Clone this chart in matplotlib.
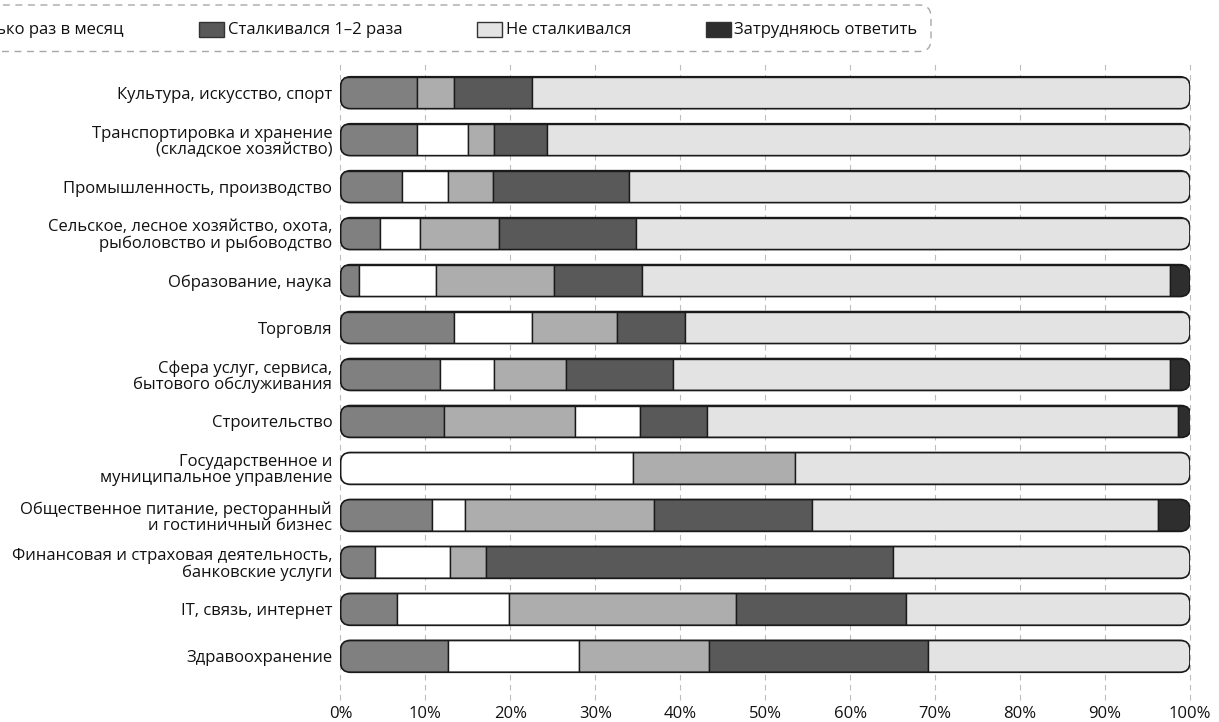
import matplotlib
matplotlib.use("Agg")
import matplotlib.pyplot as plt
from matplotlib.patches import FancyBboxPatch, Rectangle
from matplotlib.transforms import IdentityTransform

plt.rcParams['font.family'] = ['Open Sans', 'DejaVu Sans']

# rows, top to bottom
categories = [
    "Культура, искусство, спорт",
    "Транспортировка и хранение\n(складское хозяйство)",
    "Промышленность, производство",
    "Сельское, лесное хозяйство, охота,\nрыболовство и рыбоводство",
    "Образование, наука",
    "Торговля",
    "Сфера услуг, сервиса,\nбытового обслуживания",
    "Строительство",
    "Государственное и\nмуниципальное управление",
    "Общественное питание, ресторанный\nи гостиничный бизнес",
    "Финансовая и страховая деятельность,\nбанковские услуги",
    "IT, связь, интернет",
    "Здравоохранение",
]

daily = [9.0, 9.0, 7.2, 4.6, 2.15, 13.4, 11.7, 12.15, 0, 10.8, 4.1, 6.7, 12.7]
weekly = [0, 6.05, 5.5, 4.8, 9.15, 9.1, 6.4, 7.6, 34.45, 3.8, 8.8, 13.1, 15.4]
monthly = [4.4, 3.0, 5.2, 9.2, 13.8, 10.1, 8.4, 15.45, 19.05, 22.3, 4.2, 26.8, 15.3]
once_twice = [9.2, 6.2, 16.1, 16.2, 10.4, 8.0, 12.6, 7.9, 0, 18.6, 47.9, 20.0, 25.7]
never = [77.4, 75.8, 66.0, 65.2, 62.2, 59.4, 58.6, 55.5, 46.5, 40.7, 35.0, 33.4, 30.9]
unsure = [0, 0, 0, 0, 2.3, 0, 2.3, 1.5, 0, 3.8, 0, 0, 0]

series = [daily, weekly, monthly, once_twice, never, unsure]
legend_labels = [
    "Сталкивался ежедневно",
    "Сталкивался несколько раз в неделю",
    "Сталкивался несколько раз в месяц",
    "Сталкивался 1–2 раза",
    "Не сталкивался",
    "Затрудняюсь ответить",
]
colors = ["#808080", "#ffffff", "#adadad", "#595959", "#e3e3e3", "#2e2e2e"]

# one row is stacked in a different order in the original
order_override = {"Строительство": [0, 2, 1, 3, 4, 5]}

ticks = list(range(0, 101, 10))
tick_labels = [f"{t}%" for t in ticks]

W, H = 1219, 722
FS = 12
EDGE = "#1a1a1a"

fig = plt.figure(figsize=(W / 100, H / 100), dpi=100)

ax_left, ax_right, ax_top, ax_bottom = 340.5, 1190, 62, 700
ax = fig.add_axes([ax_left / W, 1 - ax_bottom / H,
                   (ax_right - ax_left) / W, (ax_bottom - ax_top) / H])

n = len(categories)
y_lo, y_hi = -0.654, n - 1 + 0.93
ax.set_xlim(0, 100)
ax.set_ylim(y_hi, y_lo)

# rounded bar ends: keep corners circular in pixels despite unequal x/y units
px_x = (ax_right - ax_left) / 100
px_y = (ax_bottom - ax_top) / (y_hi - y_lo)
aspect = px_x / px_y
radius = 10 / px_x
bar_h = 0.68

for i, cat in enumerate(categories):
    order = order_override.get(cat, range(len(series)))
    total = sum(s[i] for s in series)
    outline = FancyBboxPatch((0, i - bar_h / 2), total, bar_h,
                             boxstyle=f"round,pad=0,rounding_size={radius}",
                             mutation_aspect=aspect, fc="none", ec=EDGE,
                             lw=1.2, zorder=4)
    ax.add_patch(outline)
    left = 0
    for k in order:
        v = series[k][i]
        if v <= 0:
            continue
        bars = ax.barh(i, v, left=left, height=bar_h, color=colors[k],
                       edgecolor=EDGE, linewidth=1.0, zorder=3)
        for b in bars:
            b.set_clip_path(outline)
        left += v

ax.set_xticks(ticks)
ax.set_xticklabels(tick_labels, fontsize=FS, color="#111111")
ax.set_yticks(range(n))
ax.set_yticklabels(categories, fontsize=FS, color="#111111", linespacing=1.0)
ax.tick_params(axis="both", length=0)
ax.tick_params(axis="x", pad=4)
ax.tick_params(axis="y", pad=6)
for s in ax.spines.values():
    s.set_visible(False)
ax.grid(axis="x", color="#bdbdbd", linestyle=(0, (5, 4)), linewidth=0.8)
ax.set_axisbelow(True)
for gl in ax.get_xgridlines():
    gl.set_clip_on(False)

# legend, drawn by hand in pixel coords (runs off the left edge like the original)
renderer = fig.canvas.get_renderer()
leg_y = H - 29.5
box = FancyBboxPatch((-60, H - 51.5), 60 + 931, 46.5,
                     boxstyle="round,pad=0,rounding_size=12",
                     transform=IdentityTransform(), fc="white", ec="#a8a8a8",
                     lw=1.0, linestyle=(0, (5, 4)), zorder=1)
fig.patches.append(box)

texts = []
for lab in legend_labels:
    t = fig.text(0, 1 - 29.5 / H, lab, fontsize=FS, va="center", ha="left",
                 color="#111111")
    texts.append(t)
widths = [t.get_window_extent(renderer).width for t in texts]

patch_w, patch_h, gap_txt, gap_item = 25, 15.6, 3.5, 75
anchor = 3
patch_x = [0.0] * len(legend_labels)
patch_x[anchor] = 199
for k in range(anchor + 1, len(legend_labels)):
    patch_x[k] = patch_x[k - 1] + patch_w + gap_txt + widths[k - 1] + gap_item
for k in range(anchor - 1, -1, -1):
    patch_x[k] = patch_x[k + 1] - gap_item - widths[k] - gap_txt - patch_w

for k, t in enumerate(texts):
    rect = Rectangle((patch_x[k], leg_y - patch_h / 2), patch_w, patch_h,
                     transform=IdentityTransform(), fc=colors[k], ec="#333333",
                     lw=1.0, zorder=2)
    fig.patches.append(rect)
    t.set_x((patch_x[k] + patch_w + gap_txt) / W)

fig.savefig("out.png", dpi=100)
